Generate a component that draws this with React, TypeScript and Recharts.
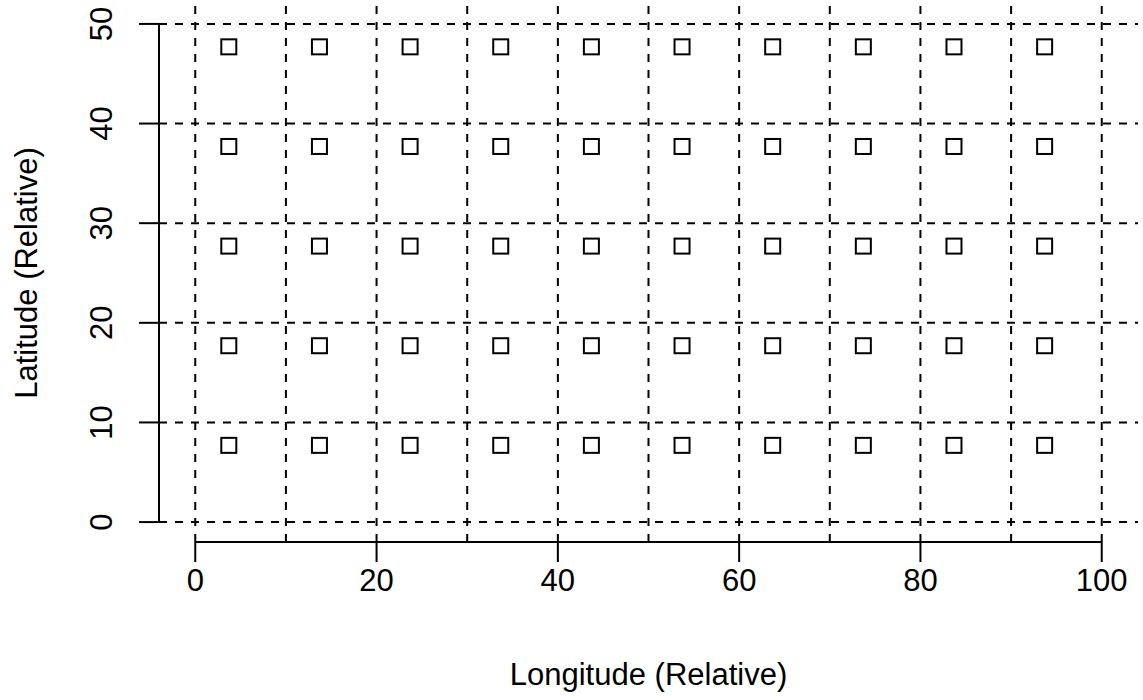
import {
  ScatterChart, Scatter, XAxis, YAxis, ReferenceLine, Label,
} from 'recharts';

// grid of sample sites (relative coordinates)
const lonValues = [3.7, 13.7, 23.7, 33.7, 43.7, 53.7, 63.7, 73.7, 83.7, 93.7];
const latValues = [7.7, 17.7, 27.7, 37.7, 47.7];

const xTicks = [0, 20, 40, 60, 80, 100];
const yTicks = [0, 10, 20, 30, 40, 50];
const xGrid = [0, 10, 20, 30, 40, 50, 60, 70, 80, 90, 100];
const yGrid = [0, 10, 20, 30, 40, 50];

const points = latValues.flatMap(lat => lonValues.map(lon => ({ lon, lat })));

const FONT = '"Liberation Sans", Arial, Helvetica, sans-serif';
const FS = 31;

const SquareMark = (props: any) => {
  const { cx, cy } = props;
  return (
    <rect x={cx - 7.5} y={cy - 7.5} width={15} height={15}
      fill="none" stroke="#000" strokeWidth={2} />
  );
};

const YTick = (props: any) => {
  const { y, payload } = props;
  const bx = 112;
  return (
    <text x={bx} y={y} transform={`rotate(-90, ${bx}, ${y})`} textAnchor="middle"
      fontSize={FS} fontFamily={FONT} fill="#000">
      {payload.value}
    </text>
  );
};

export default function App() {
  return (
    <div style={{ position: 'absolute', left: 0, top: 0, background: '#fff' }}>
      <ScatterChart width={1143} height={700} margin={{ top: 4, right: 5, bottom: 0, left: 0 }}>
        {xGrid.map(v => (
          <ReferenceLine key={'vx' + v} x={v} stroke="#000" strokeWidth={2} strokeDasharray="8 8" />
        ))}
        {yGrid.map(v => (
          <ReferenceLine key={'hy' + v} y={v} stroke="#000" strokeWidth={2} strokeDasharray="8 8" />
        ))}
        <ReferenceLine segment={[{ x: 0, y: -2 }, { x: 100, y: -2 }]} stroke="#000" strokeWidth={2} />
        <ReferenceLine segment={[{ x: -4, y: 0 }, { x: -4, y: 50 }]} stroke="#000" strokeWidth={2} />
        <XAxis
          type="number"
          dataKey="lon"
          domain={[-4, 104]}
          ticks={xTicks}
          height={158}
          axisLine={false}
          tickSize={20}
          tickMargin={7}
          tickLine={{ stroke: '#000', strokeWidth: 2 }}
          tick={{ fontSize: FS, fill: '#000', fontFamily: FONT }}
          allowDataOverflow
        >
          <Label
            content={(p: any) => {
              const vb = p.viewBox;
              return (
                <text x={vb.x + vb.width / 2} y={685} textAnchor="middle"
                  fontSize={FS} fontFamily={FONT} fill="#000">
                  Longitude (Relative)
                </text>
              );
            }}
          />
        </XAxis>
        <YAxis
          type="number"
          dataKey="lat"
          domain={[-2, 52]}
          ticks={yTicks}
          width={159}
          axisLine={false}
          tickSize={20}
          tickLine={{ stroke: '#000', strokeWidth: 2 }}
          tick={<YTick />}
          allowDataOverflow
        >
          <Label
            content={(p: any) => {
              const vb = p.viewBox;
              const cy = vb.y + vb.height / 2;
              return (
                <text x={37} y={cy} transform={`rotate(-90, 37, ${cy})`} textAnchor="middle"
                  fontSize={FS} fontFamily={FONT} fill="#000">
                  Latitude (Relative)
                </text>
              );
            }}
          />
        </YAxis>
        <Scatter data={points} shape={<SquareMark />} isAnimationActive={false} />
      </ScatterChart>
    </div>
  );
}
